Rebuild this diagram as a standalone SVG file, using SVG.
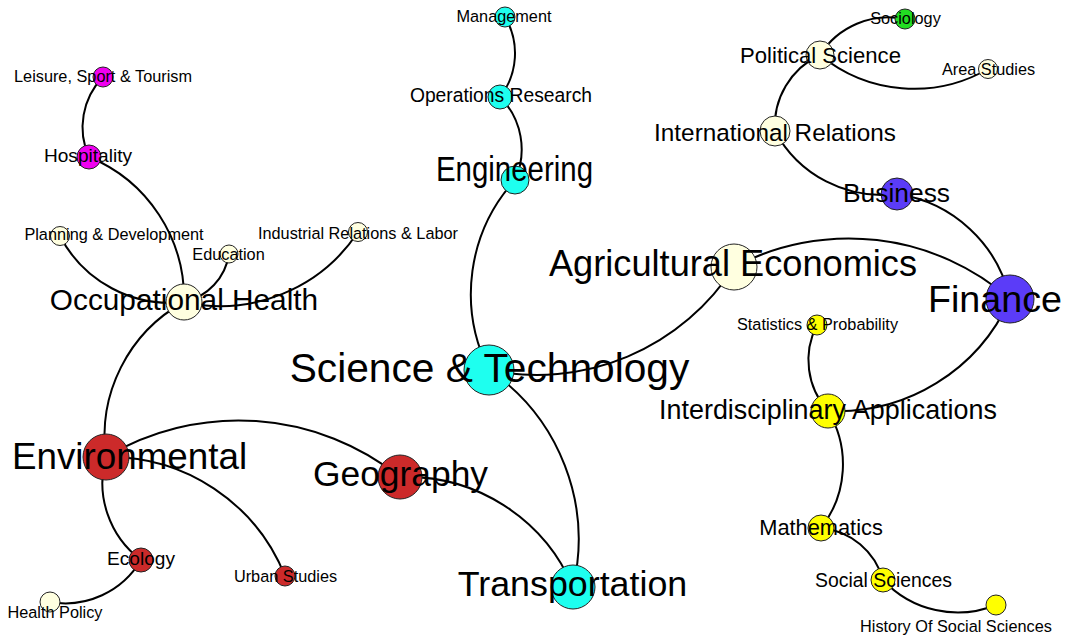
<svg xmlns="http://www.w3.org/2000/svg" width="1065" height="636" viewBox="0 0 1065 636">
<style>
.e{fill:none;stroke:#000;stroke-width:2}
circle{stroke:#222;stroke-width:1}
text{font-family:"Liberation Sans",Arial,sans-serif;fill:#000;text-anchor:middle}
.cy{fill:#1EFFEF}.rd{fill:#CC2A2A}.bl{fill:#5B3CF8}.mg{fill:#F000F0}.yl{fill:#FFFF00}.cr{fill:#FFFFE0}.gr{fill:#22DD22}
.s16{font-size:16.3px}
</style>
<rect width="1065" height="636" fill="#fff"/>
<g id="edges">
<path class="e" d="M505,17 A71,71 0 0 1 500,97"/>
<path class="e" d="M500,97 A74,74 0 0 1 515,180"/>
<path class="e" d="M515,180 A169,169 0 0 0 489,370"/>
<path class="e" d="M489,370 A234,234 0 0 0 734,267"/>
<path class="e" d="M489,370 A205,205 0 0 1 573,587"/>
<path class="e" d="M400,477 A181,181 0 0 1 573,587"/>
<path class="e" d="M106,457 A259,259 0 0 1 400,477"/>
<path class="e" d="M106,457 A153,153 0 0 1 184,302"/>
<path class="e" d="M106,457 A96,96 0 0 0 141,560"/>
<path class="e" d="M106,457 A189,189 0 0 1 285,576"/>
<path class="e" d="M141,560 A88,88 0 0 1 50,602"/>
<path class="e" d="M184,302 A153,153 0 0 0 89,157"/>
<path class="e" d="M89,157 A72,72 0 0 1 103,77"/>
<path class="e" d="M184,302 A124,124 0 0 1 60,236"/>
<path class="e" d="M184,302 A58,58 0 0 0 229,254"/>
<path class="e" d="M184,302 A165,165 0 0 0 358,232"/>
<path class="e" d="M734,267 A245,245 0 0 1 1010,299"/>
<path class="e" d="M1010,299 A136,136 0 0 0 897,194"/>
<path class="e" d="M1010,299 A189,189 0 0 1 828,411"/>
<path class="e" d="M897,194 A121,121 0 0 1 775,131"/>
<path class="e" d="M775,131 A78,78 0 0 1 820,55"/>
<path class="e" d="M820,55 A81,81 0 0 1 905,19"/>
<path class="e" d="M820,55 A148,148 0 0 0 988,69"/>
<path class="e" d="M828,411 A76,76 0 0 1 817,325"/>
<path class="e" d="M828,411 A103,103 0 0 1 821,528"/>
<path class="e" d="M821,528 A71,71 0 0 1 883,580"/>
<path class="e" d="M883,580 A102,102 0 0 0 996,605"/>
</g>
<g id="management"><circle class="cy" cx="505" cy="17" r="10"/><text class="s16" x="504" y="22">Management</text></g>
<g id="operations-research"><circle class="cy" cx="500" cy="97" r="12"/><text x="501" y="102" font-size="19.3">Operations Research</text></g>
<g id="engineering"><circle class="cy" cx="515" cy="180" r="14"/><text x="514.5" y="181" font-size="35" textLength="157" lengthAdjust="spacingAndGlyphs">Engineering</text></g>
<g id="science-technology"><circle class="cy" cx="489" cy="370" r="25"/><text x="489.5" y="382" font-size="40.7">Science &amp; Technology</text></g>
<g id="transportation"><circle class="cy" cx="573" cy="587" r="22"/><text x="572.5" y="596" font-size="35.8">Transportation</text></g>
<g id="geography"><circle class="rd" cx="400" cy="477" r="22"/><text x="400.5" y="486" font-size="35.4">Geography</text></g>
<g id="environmental"><circle class="rd" cx="106" cy="457" r="23"/><text x="129.5" y="469" font-size="36.8">Environmental</text></g>
<g id="ecology"><circle class="rd" cx="141" cy="560" r="12"/><text x="141" y="565" font-size="19.1">Ecology</text></g>
<g id="health-policy"><circle class="cr" cx="50" cy="602" r="10"/><text class="s16" x="55" y="617.5">Health Policy</text></g>
<g id="urban-studies"><circle class="rd" cx="285" cy="576" r="10"/><text class="s16" x="285.5" y="582">Urban Studies</text></g>
<g id="occupational-health"><circle class="cr" cx="184" cy="302" r="18"/><text x="184" y="310" font-size="29.8">Occupational Health</text></g>
<g id="hospitality"><circle class="mg" cx="89" cy="157" r="12"/><text x="88" y="162" font-size="19.1">Hospitality</text></g>
<g id="leisure"><circle class="mg" cx="103" cy="77" r="10"/><text class="s16" x="103" y="82">Leisure, Sport &amp; Tourism</text></g>
<g id="planning"><circle class="cr" cx="60" cy="236" r="9.5"/><text class="s16" x="114" y="240">Planning &amp; Development</text></g>
<g id="education"><circle class="cr" cx="229" cy="254" r="9"/><text class="s16" x="228.5" y="260">Education</text></g>
<g id="industrial-relations"><circle class="cr" cx="358" cy="232" r="9.5"/><text class="s16" x="358" y="239">Industrial Relations &amp; Labor</text></g>
<g id="agricultural-economics"><circle class="cr" cx="734" cy="267" r="23"/><text x="733" y="276" font-size="36.2">Agricultural Economics</text></g>
<g id="finance"><circle class="bl" cx="1010" cy="299" r="24"/><text x="995" y="312" font-size="37.7">Finance</text></g>
<g id="business"><circle class="bl" cx="897" cy="194" r="16"/><text x="896.5" y="202" font-size="26.4">Business</text></g>
<g id="international-relations"><circle class="cr" cx="775" cy="131" r="15"/><text x="775" y="141" font-size="24.3">International Relations</text></g>
<g id="political-science"><circle class="cr" cx="820" cy="55" r="14"/><text x="820.5" y="63" font-size="22.1">Political Science</text></g>
<g id="sociology"><circle class="gr" cx="905" cy="19" r="10"/><text class="s16" x="905.5" y="24">Sociology</text></g>
<g id="area-studies"><circle class="cr" cx="988" cy="69" r="9.5"/><text class="s16" x="988.5" y="75">Area Studies</text></g>
<g id="statistics"><circle class="yl" cx="817" cy="325" r="10"/><text class="s16" x="817.5" y="330">Statistics &amp; Probability</text></g>
<g id="interdisciplinary"><circle class="yl" cx="828" cy="411" r="17"/><text x="828" y="419" font-size="26.9">Interdisciplinary Applications</text></g>
<g id="mathematics"><circle class="yl" cx="821" cy="528" r="13"/><text x="821" y="535" font-size="21.8">Mathematics</text></g>
<g id="social-sciences"><circle class="yl" cx="883" cy="580" r="12"/><text x="883.5" y="587" font-size="19.4">Social Sciences</text></g>
<g id="history-social-sciences"><circle class="yl" cx="996" cy="605" r="10"/><text class="s16" x="956" y="632">History Of Social Sciences</text></g>
</svg>
